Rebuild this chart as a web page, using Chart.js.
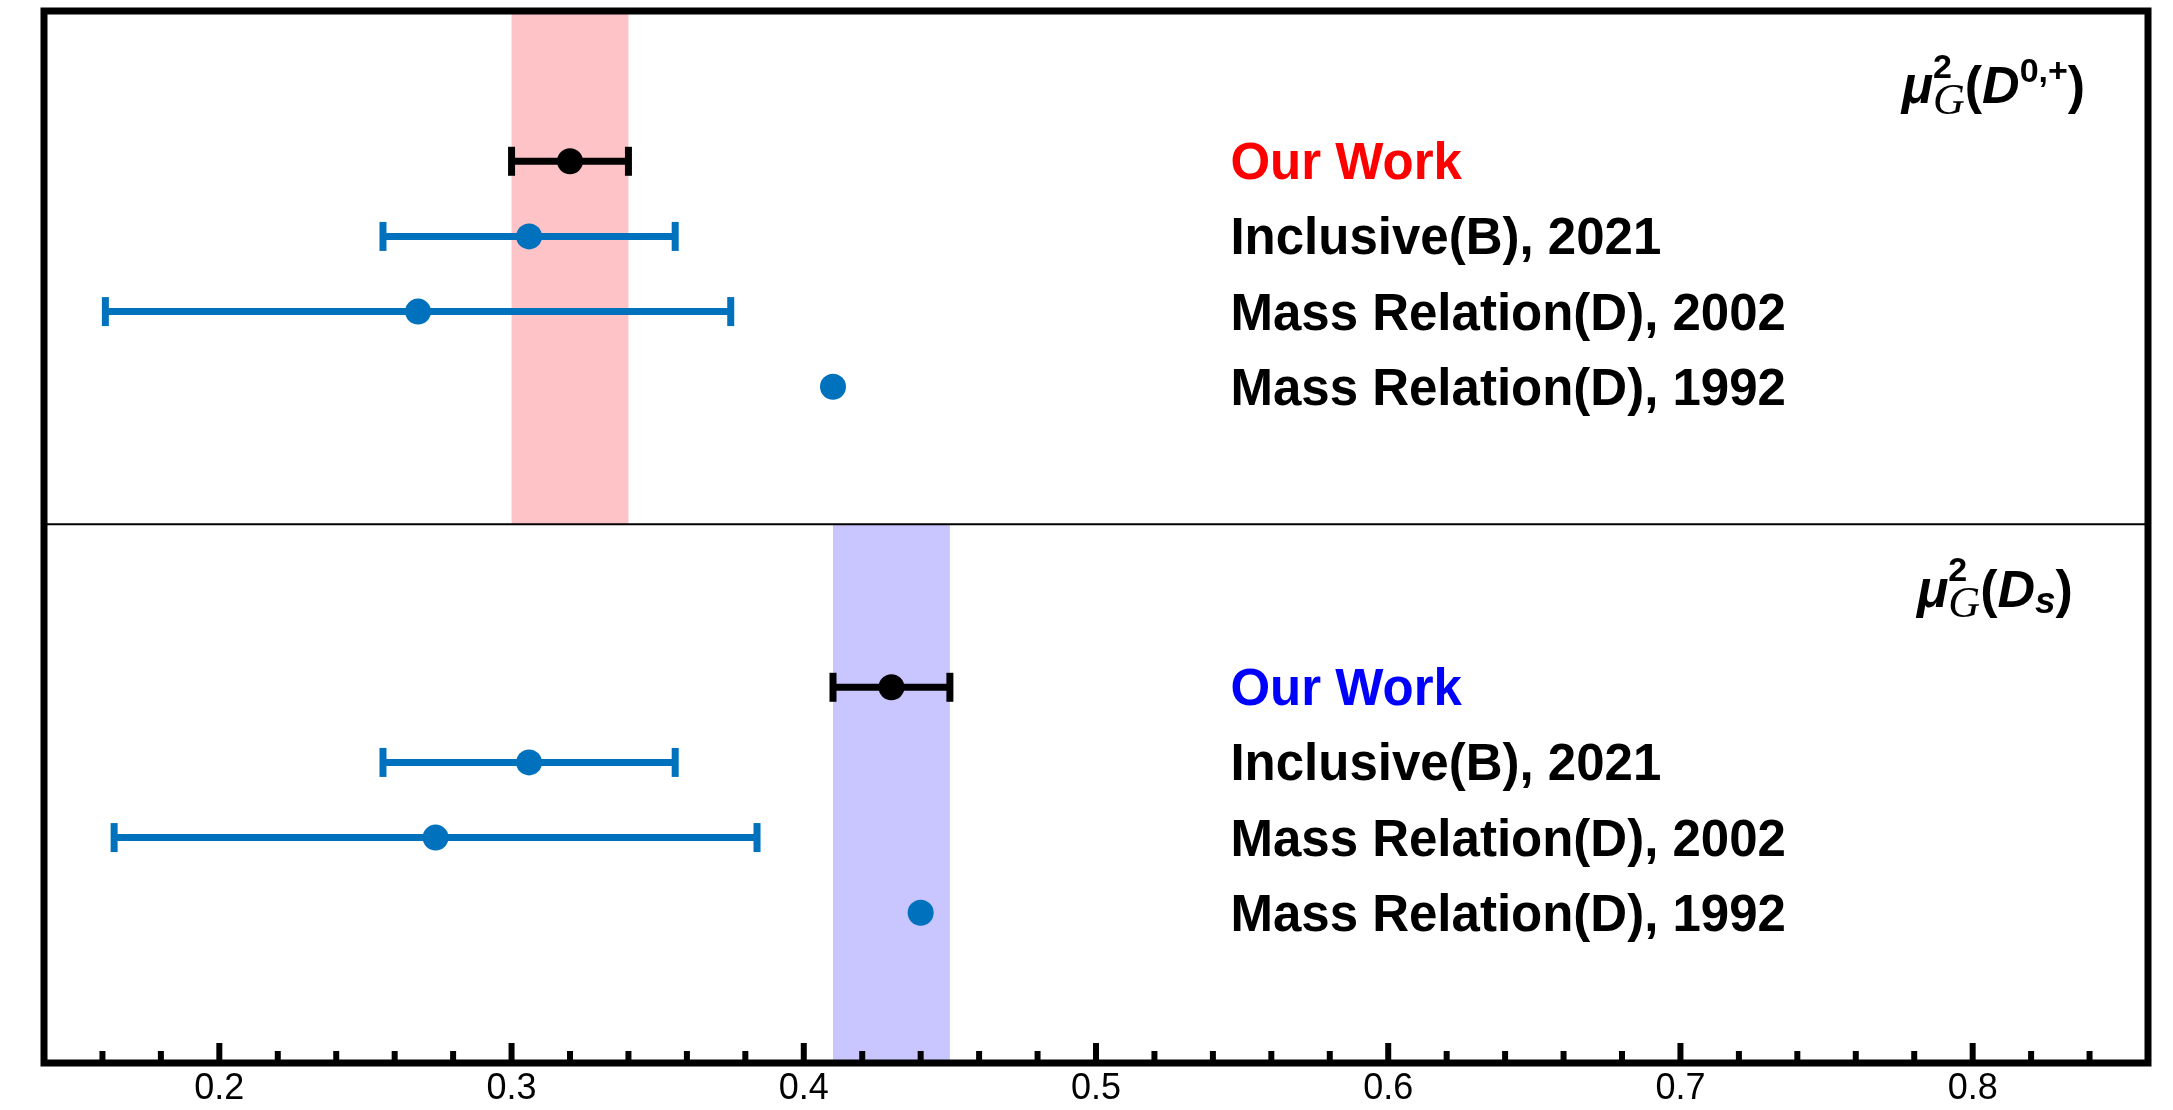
<!DOCTYPE html>
<html>
<head>
<meta charset="utf-8">
<script src="https://cdn.jsdelivr.net/npm/chart.js@4"></script>
<style>
html,body{margin:0;padding:0;background:#fff;}
canvas{display:block;}
</style>
</head>
<body>
<canvas id="c" width="2173" height="1110"></canvas>
<script>
const rowLabels = ["Our Work", "Inclusive(B), 2021", "Mass Relation(D), 2002", "Mass Relation(D), 1992"];
const topRows = [0, 1, 2, 3];
const botRows = [7, 8, 9, 10];
const topCentral = [0.32, 0.306, 0.268, 0.41];
const topLow     = [0.30, 0.256, 0.161, null];
const topHigh    = [0.34, 0.356, 0.375, null];
const botCentral = [0.43, 0.306, 0.274, 0.44];
const botLow     = [0.41, 0.256, 0.164, null];
const botHigh    = [0.45, 0.356, 0.384, null];
const topBand = [0.30, 0.34];
const botBand = [0.41, 0.45];
const dividerY = 4.83;
const xTickLabels = [0.2, 0.3, 0.4, 0.5, 0.6, 0.7, 0.8];
const xMinorTicks = [0.16, 0.18, 0.22, 0.24, 0.26, 0.28, 0.32, 0.34, 0.36, 0.38, 0.42, 0.44, 0.46, 0.48,
                     0.52, 0.54, 0.56, 0.58, 0.62, 0.64, 0.66, 0.68, 0.72, 0.74, 0.76, 0.78, 0.82, 0.84];
const labelX = 0.546;
const topTitleAnchor = {x: 0.8385, y: -0.78};
const botTitleAnchor = {x: 0.8343, y: 5.933};

const BLUE = '#0072BD';
const BLACK = '#000000';
const SANS = '"Liberation Sans", Arial, Helvetica, sans-serif';
const SERIF = '"Liberation Serif", "Times New Roman", serif';

function errDataset(lo, hi, y, color) {
  return {
    type: 'line', data: [{x: lo, y: y}, {x: hi, y: y}],
    borderColor: color, borderWidth: 7, showLine: true, fill: false,
    pointStyle: 'line', pointRotation: 90, pointRadius: 14.5, pointHoverRadius: 14.5,
    pointBorderWidth: 7, pointBorderColor: color, order: 2
  };
}
const datasets = [];
function addPanel(rows, central, low, high) {
  rows.forEach((r, i) => {
    const col = i === 0 ? BLACK : BLUE;
    if (low[i] !== null) datasets.push(errDataset(low[i], high[i], r, col));
  });
  datasets.push({
    type: 'scatter', data: rows.map((r, i) => ({x: central[i], y: r})),
    pointRadius: 13, pointHoverRadius: 13, pointBorderWidth: 0,
    backgroundColor: rows.map((r, i) => i === 0 ? BLACK : BLUE), order: 1
  });
}
addPanel(topRows, topCentral, topLow, topHigh);
addPanel(botRows, botCentral, botLow, botHigh);

const bandPlugin = {
  id: 'bands',
  beforeDatasetsDraw(chart) {
    const {ctx, chartArea: a, scales: {x, y}} = chart;
    const yd = y.getPixelForValue(dividerY);
    ctx.save();
    ctx.fillStyle = '#FEC3C7';
    const x0 = x.getPixelForValue(topBand[0]), x1 = x.getPixelForValue(topBand[1]);
    ctx.fillRect(x0, a.top, x1 - x0, yd - a.top);
    ctx.fillStyle = '#C8C5FF';
    const x2 = x.getPixelForValue(botBand[0]), x3 = x.getPixelForValue(botBand[1]);
    ctx.fillRect(x2, yd, x3 - x2, a.bottom - yd);
    ctx.restore();
  }
};

function drawRich(ctx, segs, xRight, baseline) {
  const widthOf = s => { ctx.font = s.font; return ctx.measureText(s.t).width; };
  const widths = segs.map(s => s.stack ? Math.max(...s.stack.map(widthOf)) : widthOf(s));
  let xx = xRight - widths.reduce((a, b) => a + b, 0);
  ctx.textBaseline = 'alphabetic'; ctx.textAlign = 'left'; ctx.fillStyle = BLACK;
  segs.forEach((s, i) => {
    const parts = s.stack ? s.stack : [s];
    parts.forEach(p => { ctx.font = p.font; ctx.fillText(p.t, xx + (p.dx || 0), baseline + (p.dy || 0)); });
    xx += widths[i];
  });
}

const textPlugin = {
  id: 'texts',
  afterDraw(chart) {
    const {ctx, chartArea: a, scales: {x, y}} = chart;
    ctx.save();
    ctx.strokeStyle = BLACK; ctx.lineWidth = 7;
    ctx.strokeRect(a.left, a.top, a.right - a.left, a.bottom - a.top);
    const yd = y.getPixelForValue(dividerY);
    ctx.lineWidth = 2;
    ctx.beginPath(); ctx.moveTo(a.left, yd); ctx.lineTo(a.right, yd); ctx.stroke();
    ctx.lineWidth = 6;
    xTickLabels.forEach(v => { const px = x.getPixelForValue(v); ctx.beginPath(); ctx.moveTo(px, a.bottom); ctx.lineTo(px, a.bottom - 20); ctx.stroke(); });
    xMinorTicks.forEach(v => { const px = x.getPixelForValue(v); ctx.beginPath(); ctx.moveTo(px, a.bottom); ctx.lineTo(px, a.bottom - 12); ctx.stroke(); });
    ctx.font = 'bold 51px ' + SANS; ctx.textAlign = 'left'; ctx.textBaseline = 'alphabetic';
    const lx = x.getPixelForValue(labelX);
    rowLabels.forEach((t, i) => {
      ctx.fillStyle = i === 0 ? '#FF0000' : BLACK;
      ctx.fillText(t, lx, y.getPixelForValue(topRows[i]) + 18);
      ctx.fillStyle = i === 0 ? '#0000FF' : BLACK;
      ctx.fillText(t, lx, y.getPixelForValue(botRows[i]) + 18);
    });
    const big = 'bold 52px ' + SANS, bigI = 'italic bold 52px ' + SANS, small = 'bold 34px ' + SANS;
    const gFont = 'italic 44px ' + SERIF;
    drawRich(ctx, [
      {t: 'μ', font: bigI},
      {stack: [{t: '2', font: small, dy: -25}, {t: 'G', font: gFont, dy: 11}]},
      {t: '(', font: big}, {t: 'D', font: bigI},
      {t: '0,+', font: small, dy: -21}, {t: ')', font: big}
    ], x.getPixelForValue(topTitleAnchor.x), y.getPixelForValue(topTitleAnchor.y));
    drawRich(ctx, [
      {t: 'μ', font: bigI},
      {stack: [{t: '2', font: small, dy: -26}, {t: 'G', font: gFont, dy: 10}]},
      {t: '(', font: big}, {t: 'D', font: bigI},
      {t: 's', font: 'italic bold 37px ' + SANS, dy: 6}, {t: ')', font: big}
    ], x.getPixelForValue(botTitleAnchor.x), y.getPixelForValue(botTitleAnchor.y));
    ctx.restore();
  }
};

new Chart(document.getElementById('c'), {
  type: 'scatter',
  data: {datasets: datasets},
  options: {
    responsive: false, devicePixelRatio: 1, animation: false,
    layout: {autoPadding: false, padding: {left: 44, right: 25, top: 11, bottom: 0}},
    plugins: {legend: {display: false}, tooltip: {enabled: false}},
    scales: {
      x: {
        type: 'linear', min: 0.14, max: 0.86,
        grid: {display: false, drawTicks: false}, border: {display: false},
        afterBuildTicks: axis => { axis.ticks = xTickLabels.map(v => ({value: v})); },
        afterFit: s => { s.height = 47; },
        ticks: { padding: 4, color: BLACK, font: {family: SANS, size: 36, lineHeight: 1.2},
          callback: v => String(Math.round(v * 10) / 10) }
      },
      y: { type: 'linear', min: -2, max: 12, reverse: true, display: false }
    }
  },
  plugins: [bandPlugin, textPlugin]
});
</script>
</body>
</html>
